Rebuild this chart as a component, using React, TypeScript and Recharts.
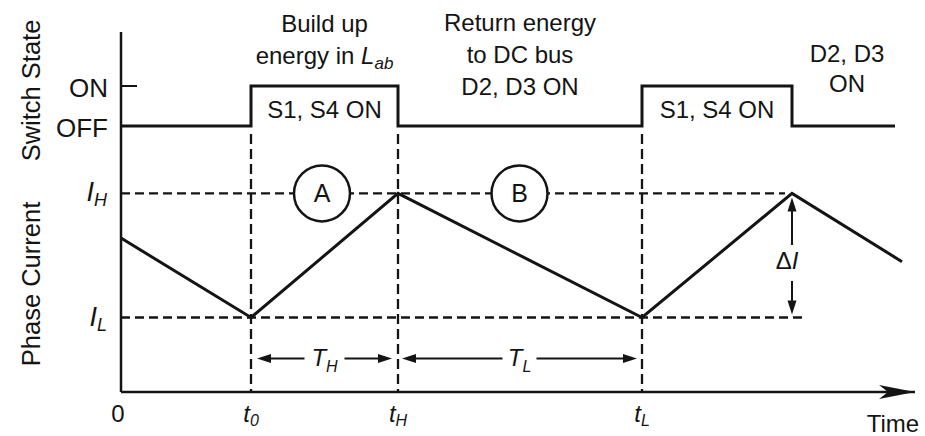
import React from 'react';
import { ComposedChart, Line, XAxis, YAxis, ReferenceLine, ReferenceDot } from 'recharts';

// ---- waveform data -------------------------------------------------------
// Time instants (arbitrary units): 0, t0, tH, tL, second turn-off
const eventTimes = [0, 13.0, 27.7, 52.1, 67.1];
const switchTimes = [0, 13.0, 27.7, 52.1, 67.1, 77.4];
const switchStates = [0, 1, 0, 1, 0, 0]; // 0 = OFF, 1 = ON
const currentTimes = [0, 13.0, 27.7, 52.1, 67.1, 78.1];
const currentValues = [1.64, 1.0, 2.0, 1.0, 2.0, 1.45]; // I_L = 1, I_H = 2

const currentLevels = [1, 2]; // I_L, I_H
const currentLevelLabels = [['I', 'L'], ['I', 'H']];
const switchTicks = [0, 1];
const switchTickLabels = ['OFF', 'ON'];
const timeTicks = [0, 13.0, 27.7, 52.1];
const timeTickLabels = [['0', ''], ['t', '0'], ['t', 'H'], ['t', 'L']];

// interval markers A and B on the I_H level
const intervalNames = ['A', 'B'];
const intervalCentres = [20.1, 39.85];

const switchData = switchTimes.map((t, i) => ({ t, s: switchStates[i] }));
const currentData = currentTimes.map((t, i) => ({ t, i: currentValues[i] }));

const [, T0, TH, TL, T2] = eventTimes;
const [IL, IH] = currentLevels;
const TIME_MAX = 79.4;
const CUR_DOMAIN: [number, number] = [0.4, 3.3];
const SW_DOMAIN: [number, number] = [-6.65, 2.35];
const SPAN_LEVEL = 0.67; // height of the T_H / T_L span arrows

const FONT = '"Liberation Sans", Arial, Helvetica, sans-serif';
const INK = '#141414';
const AXIS_X = 121;

const txt = { fontFamily: FONT, fill: INK } as const;

// ---- tick renderers ------------------------------------------------------
const SwitchTick = (p: any) => {
  const idx = switchTicks.indexOf(p.payload.value);
  return (
    <g>
      {p.payload.value === 1 && (
        <line x1={AXIS_X} y1={p.y} x2={AXIS_X + 16} y2={p.y} stroke={INK} strokeWidth={2} />
      )}
      <text x={AXIS_X - 13} y={p.y + 11} textAnchor="end" fontSize={26} {...txt}>
        {switchTickLabels[idx]}
      </text>
    </g>
  );
};

const TimeTick = (p: any) => {
  const idx = timeTicks.indexOf(p.payload.value);
  const [main, sub] = timeTickLabels[idx] || ['', ''];
  return (
    <text x={p.x + (sub ? 0 : -3)} y={p.y + 30} textAnchor="middle" fontSize={24} {...txt}>
      <tspan fontStyle={sub ? 'italic' : 'normal'}>{main}</tspan>
      {sub && (
        <tspan fontSize={16} dy={4} fontStyle="italic">
          {sub}
        </tspan>
      )}
    </text>
  );
};

// label of a dashed current level, drawn left of the axis
const levelLabel = (k: number) => (props: any) => {
  const vb = props.viewBox || {};
  const [main, sub] = currentLevelLabels[k];
  return (
    <text x={vb.x - 14} y={vb.y + 8} textAnchor="end" fontSize={27} {...txt}>
      <tspan fontStyle="italic">{main}</tspan>
      <tspan fontSize={18} dy={5} fontStyle="italic">
        {sub}
      </tspan>
    </text>
  );
};

const axisTitles = (props: any) => {
  const vb = props.viewBox || { y: 32 };
  const bx = 40;
  const titles: [string, number][] = [
    ['Switch State', vb.y + 58.5],
    ['Phase Current', vb.y + 252],
  ];
  return (
    <g>
      {titles.map(([t, cy]) => (
        <text
          key={t}
          x={bx}
          y={cy}
          transform={`rotate(-90, ${bx}, ${cy})`}
          textAnchor="middle"
          fontSize={25.5}
          {...txt}
        >
          {t}
        </text>
      ))}
    </g>
  );
};

const timeTitle = (props: any) => {
  const vb = props.viewBox || { x: 121, y: 392, width: 794 };
  return (
    <text x={vb.x + vb.width - 22} y={vb.y + 40} textAnchor="middle" fontSize={24} {...txt}>
      Time
    </text>
  );
};

// ---- annotation shapes ---------------------------------------------------
const spanArrow = (sub: string, insetL: number, insetR: number, gap: number) => (p: any) => {
  const y = p.y1;
  const a = Math.min(p.x1, p.x2) + insetL;
  const b = Math.max(p.x1, p.x2) - insetR;
  const mid = (a + b) / 2;
  return (
    <g>
      <line x1={a + 6} y1={y} x2={mid - gap / 2} y2={y} stroke={INK} strokeWidth={2} />
      <line x1={mid + gap / 2} y1={y} x2={b - 6} y2={y} stroke={INK} strokeWidth={2} />
      <polygon points={`${a},${y} ${a + 14},${y - 4.5} ${a + 14},${y + 4.5}`} fill={INK} />
      <polygon points={`${b},${y} ${b - 14},${y - 4.5} ${b - 14},${y + 4.5}`} fill={INK} />
      <text x={mid} y={y + 8} textAnchor="middle" fontSize={24} fontStyle="italic" {...txt}>
        T
        <tspan fontSize={16} dy={6}>
          {sub}
        </tspan>
      </text>
    </g>
  );
};

const deltaArrow = (p: any) => {
  const x = p.x1;
  const top = Math.min(p.y1, p.y2) + 4;
  const bot = Math.max(p.y1, p.y2) - 3;
  const mid = 262;
  return (
    <g>
      <line x1={x} y1={top + 8} x2={x} y2={245} stroke={INK} strokeWidth={2} />
      <line x1={x} y1={281} x2={x} y2={bot - 8} stroke={INK} strokeWidth={2} />
      <polygon points={`${x},${top} ${x - 4.5},${top + 14} ${x + 4.5},${top + 14}`} fill={INK} />
      <polygon points={`${x},${bot} ${x - 4.5},${bot - 14} ${x + 4.5},${bot - 14}`} fill={INK} />
      <text x={x - 5} y={mid + 7} textAnchor="middle" fontSize={24} {...txt}>
        Δ<tspan fontStyle="italic">I</tspan>
      </text>
    </g>
  );
};

const circleMark = (name: string) => (p: any) => (
  <g>
    <circle cx={p.cx} cy={p.cy} r={28} fill="#fff" stroke={INK} strokeWidth={2.5} />
    <text x={p.cx} y={p.cy + 9} textAnchor="middle" fontSize={25} {...txt}>
      {name}
    </text>
  </g>
);

const note = (lines: React.ReactNode[], dys: number[]) => (p: any) => (
  <g>
    {lines.map((l, k) => (
      <text key={k} x={p.cx} y={p.cy + dys[k]} textAnchor="middle" fontSize={24} {...txt}>
        {l}
      </text>
    ))}
  </g>
);

const axisArrowHead = (p: any) => {
  const { cx, cy } = p;
  return (
    <polygon
      points={`${cx},${cy} ${cx - 36},${cy - 7} ${cx - 27},${cy} ${cx - 36},${cy + 7}`}
      fill={INK}
    />
  );
};

const dash = { stroke: INK, strokeWidth: 2.3, strokeDasharray: '9 5' };

export default function App() {
  const lab = (
    <>
      energy in <tspan fontStyle="italic">L</tspan>
      <tspan fontStyle="italic" fontSize={17} dy={5}>
        ab
      </tspan>
    </>
  );
  return (
    <div style={{ position: 'absolute', left: 0, top: 0, width: 925, height: 436, background: '#fff' }}>
      <ComposedChart width={925} height={436} margin={{ top: 32, right: 10, bottom: 0, left: 0 }}>
        <XAxis
          dataKey="t"
          type="number"
          domain={[0, TIME_MAX]}
          ticks={timeTicks}
          interval={0}
          allowDataOverflow
          height={44}
          tickSize={0}
          tickMargin={0}
          tickLine={false}
          axisLine={{ stroke: INK, strokeWidth: 2.5 }}
          tick={<TimeTick />}
          label={timeTitle}
        />
        <YAxis yAxisId="cur" type="number" domain={CUR_DOMAIN} allowDataOverflow hide width={0} />
        <YAxis
          yAxisId="sw"
          type="number"
          domain={SW_DOMAIN}
          ticks={switchTicks}
          interval={0}
          allowDataOverflow
          width={121}
          tickSize={0}
          tickMargin={0}
          tickLine={false}
          axisLine={{ stroke: INK, strokeWidth: 2.5 }}
          tick={<SwitchTick />}
          label={axisTitles}
        />

        {/* dashed guide lines */}
        <ReferenceLine
          yAxisId="cur"
          segment={[{ x: 0, y: IH }, { x: 66.4, y: IH }]}
          {...dash}
          label={levelLabel(1)}
        />
        <ReferenceLine
          yAxisId="cur"
          segment={[{ x: 0, y: IL }, { x: 68.2, y: IL }]}
          {...dash}
          label={levelLabel(0)}
        />
        {[T0, TH, TL].map((t) => (
          <ReferenceLine
            key={t}
            yAxisId="sw"
            segment={[{ x: t, y: -0.2 }, { x: t, y: SW_DOMAIN[0] }]}
            stroke={INK}
            strokeWidth={2.3}
            strokeDasharray="10 5"
          />
        ))}

        {/* interval spans */}
        <ReferenceLine
          yAxisId="cur"
          segment={[{ x: T0, y: SPAN_LEVEL }, { x: TH, y: SPAN_LEVEL }]}
          shape={spanArrow('H', 6, 6, 40)}
        />
        <ReferenceLine
          yAxisId="cur"
          segment={[{ x: TH, y: SPAN_LEVEL }, { x: TL, y: SPAN_LEVEL }]}
          shape={spanArrow('L', 4, 5, 34)}
        />
        <ReferenceLine
          yAxisId="cur"
          segment={[{ x: T2, y: IH }, { x: T2, y: IL }]}
          shape={deltaArrow}
        />

        {/* waveforms */}
        <Line
          yAxisId="sw"
          data={switchData}
          dataKey="s"
          type="stepAfter"
          stroke={INK}
          strokeWidth={3}
          dot={false}
          activeDot={false}
          isAnimationActive={false}
        />
        <Line
          yAxisId="cur"
          data={currentData}
          dataKey="i"
          type="linear"
          stroke={INK}
          strokeWidth={3}
          dot={false}
          activeDot={false}
          isAnimationActive={false}
        />

        {intervalNames.map((n, k) => (
          <ReferenceDot
            key={n}
            yAxisId="cur"
            x={intervalCentres[k]}
            y={IH}
            r={28}
            shape={circleMark(n)}
          />
        ))}

        {/* operating-mode notes */}
        <ReferenceDot
          yAxisId="sw"
          x={(T0 + TH) / 2}
          y={1}
          r={0}
          ifOverflow="visible"
          shape={note(['Build up', lab, 'S1, S4 ON'], [-54, -22, 32])}
        />
        <ReferenceDot
          yAxisId="sw"
          x={(TH + TL) / 2}
          y={1}
          r={0}
          ifOverflow="visible"
          shape={note(['Return energy', 'to DC bus', 'D2, D3 ON'], [-55, -23, 9])}
        />
        <ReferenceDot
          yAxisId="sw"
          x={(TL + T2) / 2}
          y={1}
          r={0}
          ifOverflow="visible"
          shape={note(['S1, S4 ON'], [32])}
        />
        <ReferenceDot
          yAxisId="sw"
          x={(T2 + currentTimes[5]) / 2}
          y={1}
          r={0}
          ifOverflow="visible"
          shape={note(['D2, D3', 'ON'], [-24, 6])}
        />

        <ReferenceDot
          yAxisId="cur"
          x={TIME_MAX}
          y={CUR_DOMAIN[0]}
          r={0}
          ifOverflow="visible"
          shape={axisArrowHead}
        />
      </ComposedChart>
    </div>
  );
}
